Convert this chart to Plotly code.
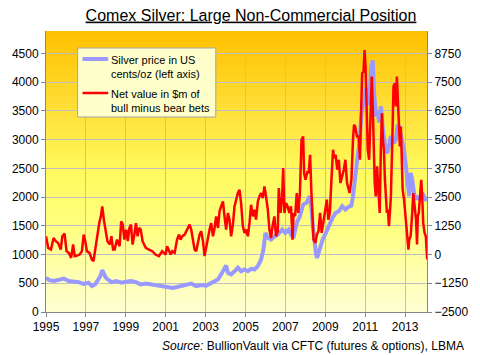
import plotly.graph_objects as go

# ---------------- data ----------------
silver_years = [1995.00, 1995.16, 1995.41, 1995.66, 1995.90, 1996.15, 1996.39, 1996.64, 1996.89,
                1997.13, 1997.30, 1997.46, 1997.62, 1997.74, 1997.82, 1997.90, 1998.00, 1998.11,
                1998.28, 1998.52, 1998.77, 1999.02, 1999.26, 1999.51, 1999.75, 2000.00, 2000.25,
                2000.49, 2000.74, 2000.98, 2001.37, 2001.62, 2001.95, 2002.28, 2002.53, 2002.78,
                2003.03, 2003.37, 2003.62, 2003.78, 2003.95, 2004.03, 2004.12, 2004.28, 2004.45,
                2004.62, 2004.78, 2004.95, 2005.12, 2005.28, 2005.45, 2005.62, 2005.78, 2005.90,
                2006.00, 2006.12, 2006.28, 2006.45, 2006.62, 2006.84, 2007.00, 2007.16, 2007.33,
                2007.41, 2007.57, 2007.73, 2007.89, 2008.06, 2008.22, 2008.30, 2008.38, 2008.46,
                2008.54, 2008.59, 2008.71, 2008.87, 2009.03, 2009.20, 2009.36, 2009.52, 2009.68,
                2009.85, 2010.01, 2010.17, 2010.31, 2010.39, 2010.47, 2010.55, 2010.64, 2010.72,
                2010.80, 2010.88, 2010.97, 2011.05, 2011.13, 2011.22, 2011.30, 2011.38, 2011.45,
                2011.55, 2011.62, 2011.70, 2011.79, 2011.88, 2011.96, 2012.04, 2012.12, 2012.20,
                2012.29, 2012.37, 2012.45, 2012.54, 2012.62, 2012.70, 2012.79, 2012.87, 2012.95,
                2013.04, 2013.12, 2013.21, 2013.28, 2013.36, 2013.45, 2013.53, 2013.62, 2013.70,
                2013.78, 2013.86, 2013.95, 2014.08]
silver_cents = [595, 555, 540, 555, 580, 540, 530, 520, 490,
                510, 450, 480, 565, 635, 730, 670, 595, 565,
                520, 540, 510, 525, 540, 520, 480, 495, 480,
                460, 450, 440, 420, 440, 460, 495, 450, 470,
                460, 510, 565, 655, 770, 810, 680, 655, 710,
                770, 710, 740, 710, 750, 740, 800, 910, 1085,
                1375, 1290, 1260, 1315, 1345, 1435, 1377, 1435, 1320,
                1290, 1550, 1667, 1870, 1900, 2015, 1840, 1493, 1146,
                1000, 943, 1088, 1262, 1377, 1522, 1638, 1725, 1753,
                1840, 1782, 1830, 1850, 2015, 2303, 2535, 2766, 2940,
                3403, 3576, 3700, 3900, 3600, 3800, 4250, 4380, 3800,
                3400, 3500, 3300, 3576, 3200, 2950, 2800, 2770, 2950,
                3060, 3000, 2940, 3000, 3230, 3230, 3060, 2940, 2820,
                2535, 2303, 2015, 2420, 2300, 2070, 1956, 2015, 1956,
                2015, 2072, 2015, 1930]

net_years = [1995.00, 1995.11, 1995.25, 1995.38, 1995.49, 1995.61, 1995.74, 1995.82, 1995.93,
             1996.03, 1996.15, 1996.26, 1996.36, 1996.44, 1996.56, 1996.69, 1996.80, 1996.89,
             1996.97, 1997.05, 1997.18, 1997.30, 1997.38, 1997.46, 1997.57, 1997.67, 1997.75,
             1997.82, 1997.90, 1997.98, 1998.08, 1998.20, 1998.28, 1998.36, 1998.44, 1998.56,
             1998.69, 1998.77, 1998.85, 1998.93, 1999.02, 1999.10, 1999.18, 1999.26, 1999.34,
             1999.43, 1999.51, 1999.59, 1999.67, 1999.75, 1999.84, 1999.92, 2000.00, 2000.16,
             2000.33, 2000.49, 2000.66, 2000.82, 2001.00, 2001.07, 2001.17, 2001.25, 2001.33,
             2001.45, 2001.57, 2001.67, 2001.75, 2001.83, 2001.95, 2002.03, 2002.12, 2002.20,
             2002.28, 2002.37, 2002.45, 2002.53, 2002.62, 2002.70, 2002.78, 2002.87, 2002.95,
             2003.03, 2003.12, 2003.20, 2003.28, 2003.37, 2003.45, 2003.53, 2003.62, 2003.70,
             2003.78, 2003.87, 2003.95, 2004.03, 2004.12, 2004.20, 2004.28, 2004.37, 2004.45,
             2004.53, 2004.62, 2004.70, 2004.78, 2004.87, 2004.95, 2005.03, 2005.12, 2005.20,
             2005.28, 2005.37, 2005.45, 2005.53, 2005.62, 2005.70, 2005.78, 2005.87, 2005.95,
             2006.03, 2006.12, 2006.20, 2006.28, 2006.37, 2006.45, 2006.53, 2006.62, 2006.67,
             2006.76, 2006.84, 2006.89, 2006.95, 2007.03, 2007.11, 2007.20, 2007.28, 2007.36,
             2007.41, 2007.49, 2007.57, 2007.65, 2007.73, 2007.81, 2007.89, 2007.94, 2008.01,
             2008.11, 2008.17, 2008.24, 2008.30, 2008.35, 2008.41, 2008.50, 2008.58, 2008.66,
             2008.74, 2008.82, 2008.90, 2009.00, 2009.08, 2009.15, 2009.23, 2009.31, 2009.39,
             2009.44, 2009.52, 2009.60, 2009.68, 2009.76, 2009.85, 2009.93, 2010.01, 2010.09,
             2010.22, 2010.31, 2010.39, 2010.44, 2010.50, 2010.59, 2010.67, 2010.74, 2010.80,
             2010.85, 2010.92, 2010.97, 2011.02, 2011.07, 2011.13, 2011.20, 2011.25, 2011.30,
             2011.33, 2011.38, 2011.43, 2011.48, 2011.53, 2011.60, 2011.66, 2011.73, 2011.79,
             2011.84, 2011.89, 2011.94, 2011.99, 2012.04, 2012.09, 2012.14, 2012.19, 2012.24,
             2012.29, 2012.37, 2012.42, 2012.49, 2012.54, 2012.59, 2012.64, 2012.69, 2012.74,
             2012.79, 2012.83, 2012.88, 2012.95, 2013.00, 2013.05, 2013.12, 2013.17, 2013.21,
             2013.28, 2013.36, 2013.41, 2013.48, 2013.55, 2013.60, 2013.64, 2013.69, 2013.74,
             2013.81, 2013.86, 2013.91, 2013.98, 2014.04, 2014.11]
net_value_musd = [795, 290, 215, 720, 580, 505, 215, 795, 910,
                  145, 70, -145, 435, -70, -45, 0, 145, 870,
                  580, 145, 70, -215, -290, 215, 940, 1370, 1660,
                  2095, 1520, 1155, 580, 435, 795, 215, 215, 650,
                  360, 1445, 1300, 650, 1085, 580, 1155, 1300, 435,
                  870, 1370, 795, 1155, 1085, 580, 435, 290, 215,
                  145, 0, -70, 145, 0, 360, 145, 0, 145,
                  70, 650, 870, 650, 795, 870, 1010, 1230, 1300,
                  1085, 650, 215, 145, 505, 870, 1010, 580, -70,
                  360, 795, 1085, 1370, 795, 1155, 1660, 1155, 1880,
                  2095, 2310, 1660, 1085, 1805, 1520, 795, 1300, 2095,
                  2385, 2675, 2820, 2240, 1230, 940, 1085, 795, 1370,
                  2165, 1660, 1950, 1520, 2310, 2530, 2675, 2455, 2965,
                  2530, 1950, 1085, 720, 1300, 1660, 795, 1010, 2895,
                  1810, 2530, 3760, 1810, 2245, 2100, 1810, 2100, 650,
                  1810, 1665, 2675, 1810, 2675, 4990, 5135, 3545, 3255,
                  3620, 3545, 4340, 2820, 1665, 650, 505, 870, 1015,
                  1810, 940, 1375, 1810, 2390, 1520, 1810, 3255, 4560,
                  4195, 4340, 3690, 4125, 3110, 3400, 3690, 4125, 3110,
                  2675, 3255, 4990, 5645, 5570, 5135, 5135, 4125, 6295,
                  7885, 7960, 8900, 8175, 6440, 4560, 4125, 5280, 6440,
                  7740, 6440, 3835, 3110, 2530, 3835, 2820, 1810, 4700,
                  6150, 4990, 4560, 3255, 2675, 1810, 1955, 1230, 1810,
                  2530, 5280, 7305, 7450, 6440, 7740, 6730, 5570, 4700,
                  5570, 3835, 2820, 2390, 1810, 1230, 505, 215, 650,
                  795, 1810, 2675, 2100, 1520, 435, 1665, 1810, 2390,
                  3255, 2530, 1375, 940, 795, -215]

x_tick_years = [1995, 1997, 1999, 2001, 2003, 2005, 2007, 2009, 2011, 2013]
left_ticks = [0, 500, 1000, 1500, 2000, 2500, 3000, 3500, 4000, 4500]
right_ticks = [-2500, -1250, 0, 1250, 2500, 3750, 5000, 6250, 7500, 8750]

silver_name = "Silver price in US<br>cents/oz (left axis)"
net_name = "Net value in $m of<br>bull minus bear bets"
title_text = "<u>Comex Silver: Large Non-Commercial Position</u>"
source_text = "<i>Source:</i> BullionVault via CFTC (futures & options), LBMA"

SILVER_COLOR = "#9999FF"
NET_COLOR = "#FF0000"

# ---------------- figure ----------------
FONT = "Liberation Sans, Arial, sans-serif"
W, H = 480, 355
ML, MR, MT, MB = 45, 49, 31, 43
PW, PH = W - ML - MR, H - MT - MB


def px_x(x):  # pixel -> paper x
    return (x - ML) / PW


def px_y(y):  # pixel -> paper y
    return (H - MB - y) / PH


fig = go.Figure()
fig.add_trace(go.Scatter(x=silver_years, y=silver_cents, mode="lines", name=silver_name,
                         line=dict(color=SILVER_COLOR, width=4), yaxis="y", showlegend=False))
fig.add_trace(go.Scatter(x=net_years, y=net_value_musd, mode="lines", name=net_name,
                         line=dict(color=NET_COLOR, width=2.5), yaxis="y2", showlegend=False))

# vertical gradient background of the plot area
stops = [(0.0, (255, 255, 212)), (0.15, (255, 255, 172)), (0.3, (255, 255, 128)),
         (0.5, (255, 250, 94)), (0.7, (255, 226, 58)), (1.0, (255, 192, 0))]


def grad(t):
    for (t0, c0), (t1, c1) in zip(stops[:-1], stops[1:]):
        if t0 <= t <= t1:
            f = (t - t0) / (t1 - t0)
            return "rgb(%d,%d,%d)" % tuple(round(a + (b - a) * f) for a, b in zip(c0, c1))
    return "rgb(%d,%d,%d)" % stops[-1][1]


n = 80
shapes = []
for i in range(n):
    y0 = i / n
    y1 = min((i + 1) / n + 0.002, 1)
    shapes.append(dict(type="rect", xref="paper", yref="paper", x0=0, x1=1, y0=y0, y1=y1,
                       fillcolor=grad((i + 0.5) / n), line=dict(width=0), layer="below"))

# legend box (drawn as decoration, above the traces)
shapes.append(dict(type="rect", xref="paper", yref="paper", x0=px_x(77), x1=px_x(217),
                   y0=px_y(117), y1=px_y(48), fillcolor="#FFFFCC",
                   line=dict(color="#A6A6A6", width=1), layer="above"))
legend_items = [(silver_name, SILVER_COLOR, 4, 59), (net_name, NET_COLOR, 2.5, 93)]
annotations = []
for name, color, width, ly in legend_items:
    shapes.append(dict(type="line", xref="paper", yref="paper", x0=px_x(82), x1=px_x(108),
                       y0=px_y(ly), y1=px_y(ly), line=dict(color=color, width=width), layer="above"))
    annotations.append(dict(text=name, xref="paper", yref="paper", x=px_x(109), y=px_y(ly - 7),
                            xanchor="left", yanchor="top", align="left", showarrow=False,
                            font=dict(family=FONT, size=11, color="black")))

annotations.append(dict(text=source_text, xref="paper", yref="paper", x=px_x(471),
                        y=px_y(346), xanchor="right", yanchor="middle", showarrow=False,
                        font=dict(family=FONT, size=12, color="black")))

fig.update_layout(
    width=W, height=H,
    margin=dict(l=ML, r=MR, t=MT, b=MB),
    paper_bgcolor="white",
    plot_bgcolor="rgba(0,0,0,0)",
    font=dict(family=FONT, size=12, color="black"),
    shapes=shapes,
    annotations=annotations,
    showlegend=False,
    title=dict(text=title_text, x=251 / W, xanchor="center", y=1 - 15 / H, yanchor="middle",
               font=dict(family=FONT, size=16, color="black")),
    xaxis=dict(range=[1995, 2014.1], tickvals=x_tick_years, ticktext=[str(v) for v in x_tick_years],
               showgrid=True, gridcolor="#BFBFBF", gridwidth=1,
               showline=True, linecolor="#868686", linewidth=1,
               ticks="outside", ticklen=4, tickcolor="#868686",
               tickfont=dict(size=12, color="black"), zeroline=False),
    yaxis=dict(range=[0, 4890], tickvals=left_ticks, showgrid=True, gridcolor="#BFBFBF", gridwidth=1,
               showline=True, linecolor="#868686", linewidth=1,
               ticks="outside", ticklen=4, tickcolor="#868686",
               tickfont=dict(size=12, color="black"), zeroline=False),
    yaxis2=dict(range=[-2500, -2500 + 2.5 * 4890], tickvals=right_ticks, overlaying="y", side="right",
                showgrid=False, showline=True, linecolor="#868686", linewidth=1,
                ticks="outside", ticklen=4, tickcolor="#868686",
                tickfont=dict(size=12, color="black"), zeroline=False),
)

fig.write_html("out.html",
               config={"displayModeBar": False},
               post_script="document.body.style.margin='0';document.body.style.padding='0';")
